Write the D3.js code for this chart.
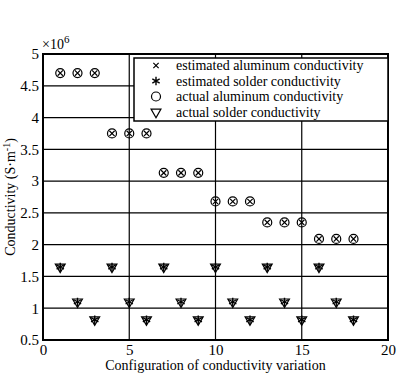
<!DOCTYPE html>
<html>
<head>
<meta charset="utf-8">
<script src="https://cdn.jsdelivr.net/npm/d3@7"></script>
<style>
  body { margin: 0; background: #fff; }
  text { font-family: "Liberation Serif", "DejaVu Serif", serif; fill: #000; }
</style>
</head>
<body>
<svg id="chart" width="402" height="374"></svg>
<script>
// configuration index
const configs = d3.range(1, 19)
// conductivity values (x10^6 S/m)
const estAluminum = [4.7, 4.7, 4.7, 3.75, 3.75, 3.75, 3.13, 3.13, 3.13, 2.68, 2.68, 2.68, 2.35, 2.35, 2.35, 2.09, 2.09, 2.09]
const actAluminum = [4.7, 4.7, 4.7, 3.75, 3.75, 3.75, 3.13, 3.13, 3.13, 2.68, 2.68, 2.68, 2.35, 2.35, 2.35, 2.09, 2.09, 2.09]
const estSolder = [1.65, 1.1, 0.82, 1.65, 1.1, 0.82, 1.65, 1.1, 0.82, 1.65, 1.1, 0.82, 1.65, 1.1, 0.82, 1.65, 1.1, 0.82]
const actSolder = [1.65, 1.1, 0.82, 1.65, 1.1, 0.82, 1.65, 1.1, 0.82, 1.65, 1.1, 0.82, 1.65, 1.1, 0.82, 1.65, 1.1, 0.82]
const xTicks = [0, 5, 10, 15, 20]
const yTicks = [0.5, 1, 1.5, 2, 2.5, 3, 3.5, 4, 4.5, 5]
const legendLabels = ["estimated aluminum conductivity", "estimated solder conductivity",
                      "actual aluminum conductivity", "actual solder conductivity"]

const margin = { top: 54, right: 14, bottom: 34, left: 43 },
    width = 402 - margin.left - margin.right,
    height = 374 - margin.top - margin.bottom

const svg = d3.select("#chart")
const g = svg.append("g").attr("transform", "translate(" + margin.left + "," + margin.top + ")")

const x = d3.scaleLinear().domain([0, 20]).range([0, width])
const y = d3.scaleLinear().domain([0.5, 5]).range([height, 0])

// grid
g.append("g").selectAll("line").data(yTicks.slice(1, -1)).enter().append("line")
    .attr("x1", 0).attr("x2", width)
    .attr("y1", d => y(d)).attr("y2", d => y(d))
    .attr("stroke", "#000").attr("stroke-width", 1.2)
g.append("g").selectAll("line").data(xTicks.slice(1, -1)).enter().append("line")
    .attr("y1", 0).attr("y2", height)
    .attr("x1", d => x(d)).attr("x2", d => x(d))
    .attr("stroke", "#000").attr("stroke-width", 1.2)

g.append("rect").attr("width", width).attr("height", height)
    .attr("fill", "none").attr("stroke", "#000").attr("stroke-width", 2)

// markers
const triangle = d3.symbol().type(d3.symbolTriangle).size(42)
const star = d3.symbol().type(d3.symbolAsterisk).size(50)
const cross = d3.symbol().type(d3.symbolX).size(20)

function marker(sel, shape) {
    if (shape === "circle") {
        sel.append("circle").attr("r", 4.5).attr("fill", "none").attr("stroke", "#000").attr("stroke-width", 1.2)
    } else if (shape === "tri") {
        sel.append("path").attr("d", triangle).attr("transform", "rotate(180)")
            .attr("fill", "none").attr("stroke", "#000").attr("stroke-width", 1.2)
    } else if (shape === "star") {
        sel.append("path").attr("d", star).attr("fill", "none").attr("stroke", "#000").attr("stroke-width", 1.4)
    } else {
        sel.append("path").attr("d", cross).attr("fill", "none").attr("stroke", "#000").attr("stroke-width", 1.2)
    }
}

function drawPoints(vals, shape) {
    const pts = g.append("g").selectAll("g").data(configs).enter().append("g")
        .attr("transform", (d, i) => "translate(" + x(d) + "," + y(vals[i]) + ")")
    marker(pts, shape)
}
drawPoints(actAluminum, "circle")
drawPoints(estAluminum, "x")
drawPoints(actSolder, "tri")
drawPoints(estSolder, "star")

// legend
const lg = svg.append("g").attr("transform", "translate(134,58)")
lg.append("rect").attr("width", 254).attr("height", 63)
    .attr("fill", "#fff").attr("stroke", "#000").attr("stroke-width", 1.5)
const shapes = ["x", "star", "circle", "tri"]
legendLabels.forEach((lab, i) => {
    const yy = 7.5 + i * 15.5
    marker(lg.append("g").attr("transform", "translate(22," + yy + ")"), shapes[i])
    lg.append("text").attr("x", 42).attr("y", yy + 4.5).style("font-size", "14px").text(lab)
})

// axis labels
svg.append("text").attr("x", margin.left + width / 2).attr("y", 370)
    .attr("text-anchor", "middle").style("font-size", "14px")
    .text("Configuration of conductivity variation")
svg.append("text").attr("transform", "translate(15," + (margin.top + height / 2) + ") rotate(-90)")
    .attr("text-anchor", "middle").style("font-size", "14px")
    .html("Conductivity (S·m<tspan dy='-5' font-size='10px'>-1</tspan><tspan dy='5'>)</tspan>")

svg.append("text").attr("x", margin.left - 1).attr("y", margin.top - 5)
    .style("font-size", "14px")
    .html("×10<tspan dy='-6' font-size='11px'>6</tspan>")

// axes last so tick labels sit on top
const xAxis = svg.append("g").attr("transform", "translate(" + margin.left + "," + (margin.top + height) + ")")
    .call(d3.axisBottom(x).tickValues(xTicks).tickSize(0).tickPadding(4).tickFormat(d3.format("d")))
const yAxis = svg.append("g").attr("transform", "translate(" + margin.left + "," + margin.top + ")")
    .call(d3.axisLeft(y).tickValues(yTicks).tickSize(0).tickPadding(4).tickFormat(d3.format("~g")))
xAxis.select(".domain").remove()
yAxis.select(".domain").remove()
svg.selectAll(".tick text").style("font-size", "15px").style("font-family", "Liberation Serif")
yAxis.raise()
</script>
</body>
</html>
